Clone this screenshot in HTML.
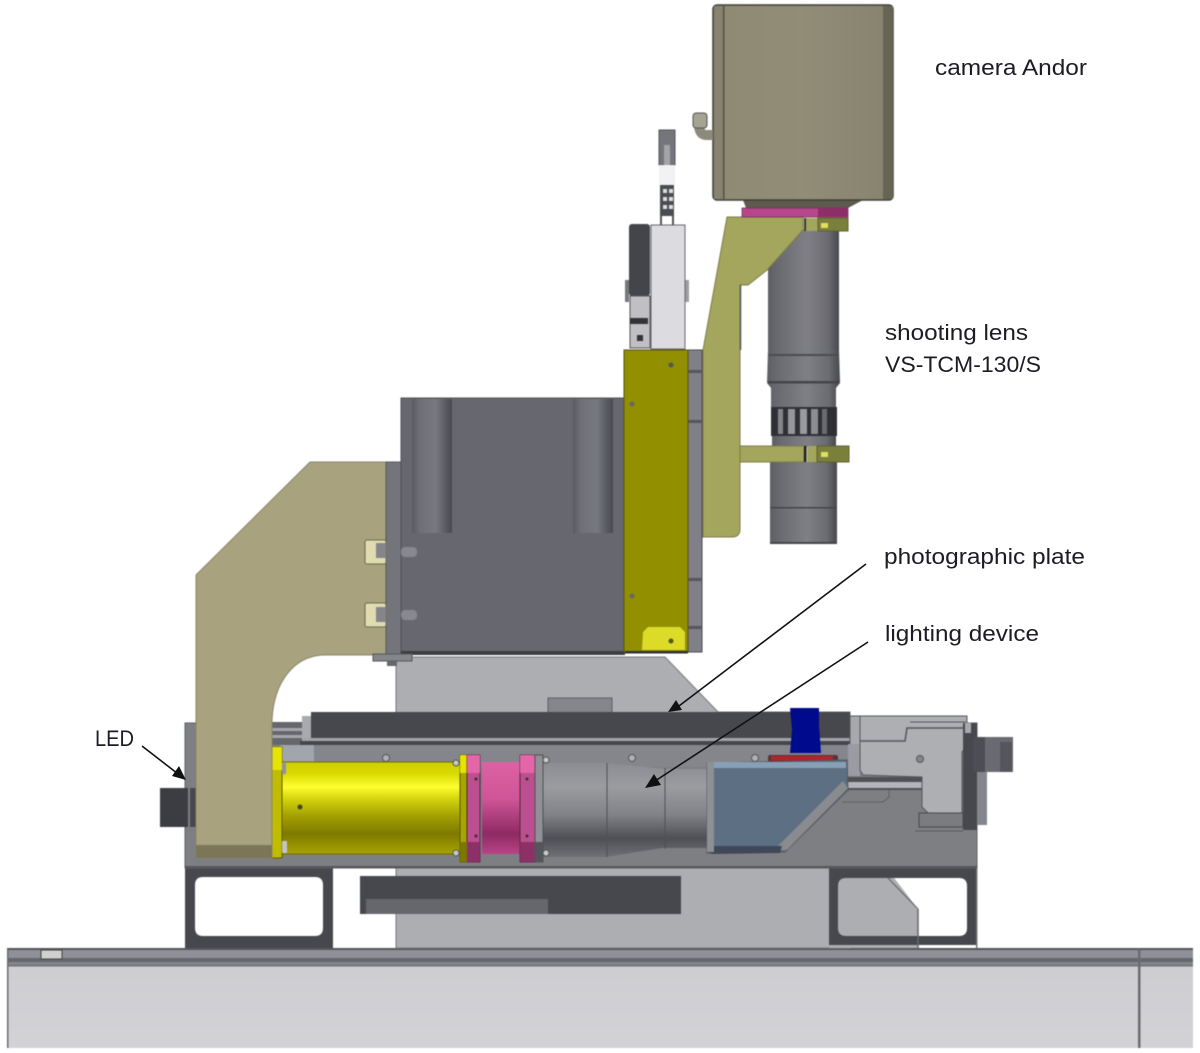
<!DOCTYPE html>
<html><head><meta charset="utf-8"><style>
html,body{margin:0;padding:0;background:#fff;width:1200px;height:1053px;overflow:hidden}
svg{display:block}
text{font-family:"Liberation Sans",sans-serif;font-size:22px;fill:#1c1c24}
.soft{filter:blur(.6px)}
.softt{filter:blur(.35px)}
</style></head><body>
<svg width="1200" height="1053" viewBox="0 0 1200 1053" xmlns="http://www.w3.org/2000/svg">
<defs>
<linearGradient id="yel" x1="0" y1="0" x2="0" y2="1"><stop offset="0" stop-color="#cfcf00"/><stop offset=".12" stop-color="#d8d800"/><stop offset=".27" stop-color="#ffff30"/><stop offset=".38" stop-color="#dada10"/><stop offset=".58" stop-color="#a5a200"/><stop offset=".78" stop-color="#7f7a00"/><stop offset="1" stop-color="#a8a400"/></linearGradient>
<linearGradient id="pnk" x1="0" y1="0" x2="0" y2="1"><stop offset="0" stop-color="#dc62a4"/><stop offset=".4" stop-color="#cf5598"/><stop offset=".78" stop-color="#8e2a64"/><stop offset="1" stop-color="#b84488"/></linearGradient>
<linearGradient id="cone" x1="0" y1="0" x2="0" y2="1"><stop offset="0" stop-color="#8c8d92"/><stop offset=".25" stop-color="#9b9ca0"/><stop offset=".55" stop-color="#818287"/><stop offset=".8" stop-color="#4e4f55"/><stop offset="1" stop-color="#6f7075"/></linearGradient>
<linearGradient id="lens" x1="0" y1="0" x2="1" y2="0"><stop offset="0" stop-color="#5d5e64"/><stop offset=".15" stop-color="#6a6b71"/><stop offset=".55" stop-color="#7f8086"/><stop offset=".85" stop-color="#6a6b70"/><stop offset="1" stop-color="#47484d"/></linearGradient>
<linearGradient id="cyl" x1="0" y1="0" x2="1" y2="0"><stop offset="0" stop-color="#5a5b62"/><stop offset=".2" stop-color="#6f7078"/><stop offset=".6" stop-color="#777880"/><stop offset="1" stop-color="#48494f"/></linearGradient>
<linearGradient id="cam" x1="0" y1="0" x2="1" y2="0"><stop offset="0" stop-color="#8f8a74"/><stop offset=".5" stop-color="#928d77"/><stop offset="1" stop-color="#87836f"/></linearGradient>
<linearGradient id="tbl" x1="0" y1="0" x2="0" y2="1"><stop offset="0" stop-color="#cdcdd1"/><stop offset="1" stop-color="#d3d3d6"/></linearGradient>
</defs>

<g class="soft">
<!-- table -->
<rect x="7" y="949" width="1186" height="99" fill="url(#tbl)"/>
<rect x="7" y="949" width="1186" height="10" fill="#8f9098"/>
<rect x="7" y="948" width="1186" height="2" fill="#55565c"/>
<rect x="7" y="958" width="1186" height="4" fill="#66676d"/>
<rect x="7" y="962" width="1186" height="3" fill="#85868c"/>
<rect x="7" y="965" width="1186" height="1.5" fill="#6f7076"/>
<rect x="7" y="949" width="1.5" height="99" fill="#6a6b70"/>
<rect x="1138" y="949" width="2.5" height="99" fill="#6a6b70"/>
<rect x="41" y="950" width="21" height="9" fill="#d0d0d0" stroke="#444" stroke-width="1"/>

<!-- light column -->
<polygon points="396,657 665,657 718,712 850,712 850,948 396,948" fill="#adaeb2" stroke="#77787c"/>
<rect x="548" y="698" width="64" height="15" fill="#85868b" stroke="#5e5f64"/>

<!-- grey part behind right frame -->
<polygon points="829,870 888,870 918,909 918,948 829,948" fill="#adaeb2"/>

<!-- base frames -->
<path fill-rule="evenodd" d="M185,866H333V948H185ZM203,877Q195,877 195,885V928Q195,936 203,936H315Q323,936 323,928V885Q323,877 315,877Z" fill="#47484e"/>
<path fill-rule="evenodd" d="M829,866H976V945H829ZM846,878Q838,878 838,886V928Q838,936 846,936H959Q967,936 967,928V886Q967,878 959,878Z" fill="#47484e"/>
<line x1="888" y1="878" x2="918" y2="909" stroke="#66676b" stroke-width="1.2"/>
<line x1="918" y1="909" x2="918" y2="948" stroke="#66676b" stroke-width="1.5"/>
<rect x="976" y="866" width="1.5" height="82" fill="#77787c"/>
<rect x="919" y="945" width="57" height="3" fill="#fff"/>

<!-- base body -->
<rect x="185" y="723" width="792" height="145" fill="#7e7f83" stroke="#5f6064" stroke-width="1"/>
<rect x="185" y="866" width="792" height="2" fill="#55565b"/>

<!-- lower plate -->
<rect x="360" y="876" width="321" height="38" fill="#47484e"/>
<rect x="366" y="899" width="182" height="15" fill="#66676c"/>

<!-- rail & plate -->
<rect x="272" y="722" width="40" height="26" fill="#66676c"/>
<rect x="272" y="728" width="32" height="3" fill="#a6a7aa"/>
<rect x="272" y="735" width="32" height="3" fill="#a6a7aa"/>
<rect x="272" y="745" width="700" height="22" fill="#85868c"/>
<rect x="280" y="745" width="34" height="18" fill="#a3a5ad"/>
<rect x="302" y="716" width="10" height="25" fill="#a9aaae"/>
<rect x="300" y="741" width="560" height="4" fill="#45464c"/>
<rect x="304" y="738" width="556" height="3" fill="#a3a4a8"/>
<rect x="311" y="712" width="539" height="26" fill="#47484e"/>
<rect x="850" y="716" width="10" height="29" fill="#a8a9ad" stroke="#55565a"/>
<rect x="848" y="744" width="12" height="32" fill="#9a9ba3"/>
<circle cx="386" cy="758" r="3.5" fill="#b0b1b5" stroke="#55565a"/>
<circle cx="632" cy="758" r="3.5" fill="#b0b1b5" stroke="#55565a"/>
<circle cx="755" cy="758" r="3.5" fill="#b0b1b5" stroke="#55565a"/>

<!-- right fitting -->
<rect x="848" y="777" width="74" height="13" fill="#4f5055"/>
<rect x="848" y="782" width="74" height="6" fill="#b4b5bb"/>
<polygon points="860,716 967,716 967,745 962,752 962,813 928,813 922,807 922,777 863,775 860,770" fill="#aeafb3" stroke="#55565b"/>
<polyline points="910,722 966,722" fill="none" stroke="#55565b"/>
<polyline points="860,741 905,741 907,728 966,728" fill="none" stroke="#55565b" stroke-width="1.5"/>
<circle cx="920" cy="759" r="3.5" fill="#85868a" stroke="#55565a"/>
<rect x="919" y="813" width="44" height="14" fill="#7b7c80" stroke="#47484d"/>
<rect x="963" y="723" width="14" height="107" fill="#47484e"/>
<rect x="965" y="723" width="6" height="10" fill="#a9aaae"/>
<rect x="977" y="772" width="10" height="53" fill="#85868c"/>
<rect x="973" y="737" width="40" height="35" fill="#6a6b72"/>
<rect x="973" y="737" width="12" height="35" fill="#4d4e55"/>
<rect x="1000" y="742" width="12" height="30" fill="#55565c"/>
<line x1="915" y1="831" x2="963" y2="831" stroke="#5a5b5f"/>
<polyline points="842,802 883,802 889,797 889,790" fill="none" stroke="#5f6064"/>

<!-- LED -->
<rect x="160" y="788" width="28" height="39" fill="#3c3d42"/>
<rect x="190" y="788" width="6" height="39" fill="#47484d"/>

<!-- yellow assembly -->
<rect x="281" y="762" width="180" height="92" fill="url(#yel)" stroke="#6f6c00" stroke-width="1"/>
<circle cx="300" cy="807" r="2.5" fill="#45451c"/>
<rect x="272" y="747" width="10" height="111" fill="#c0bd00" stroke="#5c5a00" stroke-width="1"/>
<rect x="272" y="747" width="10" height="23" fill="#e4e400"/>
<rect x="282" y="763" width="4" height="11" fill="#8d8fb0"/>
<rect x="282" y="841" width="5" height="12" fill="#c4c4c4"/>
<!-- pink -->
<rect x="482" y="762" width="38" height="92" fill="url(#pnk)"/>
<!-- cone -->
<polygon points="543,763 606,763 666,769 707,769 707,848 662,848 606,857 543,857" fill="url(#cone)"/>
<line x1="607" y1="763" x2="607" y2="857" stroke="#4f5055"/>
<line x1="665" y1="768" x2="665" y2="849" stroke="#4f5055"/>
<!-- flange 1 -->
<rect x="460" y="755" width="7" height="107" fill="#a8a500" stroke="#565400" stroke-width="1"/>
<rect x="460" y="755" width="7" height="18" fill="#e4e400"/>
<rect x="467" y="755" width="13" height="107" fill="#bc4f8f" stroke="#4d2a3e" stroke-width="1"/>
<rect x="467" y="755" width="13" height="18" fill="#e566a8"/>
<rect x="467" y="842" width="13" height="20" fill="#8e3068"/>
<rect x="460" y="842" width="7" height="20" fill="#7a7800"/>
<!-- flange 2 -->
<rect x="520" y="755" width="15" height="107" fill="#bc4f8f" stroke="#4d2a3e" stroke-width="1"/>
<rect x="520" y="755" width="15" height="18" fill="#e566a8"/>
<rect x="520" y="842" width="15" height="20" fill="#8e3068"/>
<rect x="535" y="755" width="8" height="107" fill="#909196" stroke="#4f5055" stroke-width="1"/>
<rect x="535" y="842" width="8" height="20" fill="#55565b"/>
<circle cx="456" cy="763" r="3" fill="#c9c9c9" stroke="#555"/>
<circle cx="456" cy="853" r="3" fill="#c9c9c9" stroke="#555"/>
<circle cx="546" cy="760" r="3" fill="#c9c9c9" stroke="#555"/>
<circle cx="546" cy="853" r="3" fill="#c9c9c9" stroke="#555"/>
<circle cx="476" cy="779" r="1.5" fill="#333"/><circle cx="476" cy="836" r="1.5" fill="#333"/>
<circle cx="527" cy="779" r="1.5" fill="#333"/><circle cx="527" cy="836" r="1.5" fill="#333"/>

<!-- blue housing -->
<rect x="768" y="755" width="70" height="7" rx="2" fill="#55363a"/>
<rect x="771" y="756" width="62" height="4.5" fill="#b4232a"/>
<polygon points="790,708 819,708 819,725 821,753 790,753 792,730" fill="#000a8c"/>
<polygon points="707,763 847,760 848,790 785,852 707,853" fill="#5d7083" stroke="#55565b" stroke-width="1"/>
<rect x="714" y="762" width="132" height="6" fill="#88a0b6"/>
<polygon points="843,781 848,788 787,850 774,850" fill="#8a8b8f"/>
<polygon points="707,846 782,846 780,853 712,854 707,851" fill="#3f4858"/>
<rect x="707" y="762" width="7" height="90" fill="#8f9094"/>

<!-- beige bracket -->
<path d="M196,575L310,462H386V655H322C295,657 274,680 272,720V858H196Z" fill="#a8a27e" stroke="#8a8567" stroke-width="1"/>
<rect x="196" y="845" width="76" height="13" fill="#7b7658"/>
<rect x="386" y="462" width="15" height="192" fill="#74757b" stroke="#55565a" stroke-width="1"/>

<!-- nuts/bolts -->
<rect x="365" y="540" width="21" height="24" rx="2" fill="#e0dcb0" stroke="#6b6850"/>
<rect x="376" y="543" width="10" height="15" fill="#85868a"/>
<rect x="365" y="603" width="21" height="24" rx="2" fill="#e0dcb0" stroke="#6b6850"/>
<rect x="376" y="607" width="10" height="15" fill="#85868a"/>

<!-- grey box -->
<rect x="401" y="398" width="223" height="254" fill="#67686f" stroke="#505157" stroke-width="1"/>
<rect x="412" y="399" width="40" height="134" fill="url(#cyl)"/>
<rect x="573" y="399" width="40" height="134" fill="url(#cyl)"/>
<rect x="401" y="547" width="16" height="10" rx="4" fill="#88898e"/>
<rect x="401" y="610" width="16" height="10" rx="4" fill="#88898e"/>
<rect x="401" y="651" width="224" height="4" fill="#3c3d42"/>
<rect x="373" y="654" width="39" height="7" fill="#85868a" stroke="#55565a"/>
<rect x="387" y="661" width="10" height="5" fill="#66676b"/>

<!-- upper device -->
<rect x="625" y="280" width="4" height="22" fill="#77787c"/>
<rect x="685" y="280" width="4" height="22" fill="#9e9fa2"/>
<rect x="629" y="224" width="21" height="72" fill="#44454a" rx="3"/>
<rect x="630" y="296" width="20" height="52" fill="#c0c0c4" stroke="#55565a"/>
<rect x="630" y="318" width="18" height="6" fill="#333"/>
<rect x="637" y="335" width="6" height="6" fill="#333"/>
<rect x="651" y="225" width="34" height="124" fill="#dcdce0" stroke="#66676b"/>
<rect x="659" y="130" width="16" height="35" fill="#75767c" stroke="#55565a"/>
<rect x="664" y="145" width="6" height="25" fill="#a3a4a8"/>
<rect x="659" y="165" width="16" height="20" fill="#f2f2f2"/>
<rect x="660" y="185" width="14" height="31" fill="#4b4c51"/>
<rect x="663" y="189" width="4" height="4" fill="#ddd"/><rect x="669" y="189" width="4" height="4" fill="#ddd"/>
<rect x="663" y="197" width="4" height="4" fill="#ddd"/><rect x="669" y="197" width="4" height="4" fill="#ddd"/>
<rect x="663" y="205" width="4" height="4" fill="#ddd"/><rect x="669" y="205" width="4" height="4" fill="#ddd"/>
<rect x="660" y="216" width="2" height="9" fill="#555"/><rect x="672" y="216" width="2" height="9" fill="#555"/>

<!-- olive panel -->
<rect x="688" y="350" width="14" height="302" fill="#7f8088" stroke="#4a4b50" stroke-width="1"/>
<rect x="688" y="370" width="14" height="3" fill="#55565b"/>
<rect x="688" y="420" width="14" height="3" fill="#55565b"/>
<rect x="688" y="578" width="14" height="3" fill="#55565b"/>
<rect x="688" y="626" width="14" height="3" fill="#55565b"/>
<rect x="624" y="350" width="64" height="302" fill="#929000" stroke="#55540a" stroke-width="1"/>
<path d="M648,627H680L685,632V650H642L643,632Z" fill="#dcdc28"/>
<circle cx="671" cy="365" r="2.5" fill="#555"/><circle cx="632" cy="404" r="2.5" fill="#666"/>
<circle cx="632" cy="596" r="2.5" fill="#666"/><circle cx="671" cy="641" r="2.5" fill="#55560f"/>
<rect x="625" y="651" width="63" height="2.5" fill="#303035"/>

<!-- lens -->
<rect x="768" y="230" width="71" height="120" fill="url(#lens)"/>
<path d="M768,350H839L840,383L836,388V407H771V388L767,383Z" fill="url(#lens)"/>
<rect x="768" y="354" width="71" height="2" fill="#4b4c51"/>
<rect x="768" y="381" width="71" height="2.5" fill="#44454a"/>
<rect x="771" y="407" width="66" height="29" fill="#2f3035"/>
<rect x="778" y="409" width="5" height="25" fill="#84858a"/>
<rect x="788" y="409" width="7" height="25" fill="#95969b"/>
<rect x="800" y="409" width="7" height="25" fill="#9a9ba0"/>
<rect x="811" y="409" width="7" height="25" fill="#8c8d92"/>
<rect x="822" y="409" width="5" height="25" fill="#6a6b70"/>
<rect x="772" y="436" width="64" height="11" fill="url(#lens)"/>
<rect x="770" y="462" width="67" height="81" fill="url(#lens)"/>
<rect x="770" y="507" width="67" height="1.5" fill="#44454a"/>
<rect x="770" y="542" width="67" height="2" fill="#44454a"/>

<!-- olive arm -->
<path d="M727,217H803V230L767,270L748,285H740V529Q740,537 732,537H703V350Z" fill="#a3a65c" stroke="#7a7c48" stroke-width="1"/>
<line x1="740.5" y1="285" x2="740.5" y2="350" stroke="#55565a" stroke-width="1.5"/>
<rect x="740" y="446" width="64" height="16" fill="#a3a65c" stroke="#7a7c48" stroke-width="1"/>
<rect x="804" y="446" width="2.5" height="16" fill="#202125"/>
<rect x="807" y="446" width="11" height="16" fill="#a3a65c"/>
<rect x="817" y="446" width="32" height="16" fill="#7b7f3c" stroke="#5f6030" stroke-width="1"/>
<rect x="821" y="452" width="7" height="5" fill="#e0e060"/>
<rect x="804" y="218" width="2" height="13" fill="#33342a"/>
<rect x="806" y="218" width="12" height="13" fill="#a3a65c"/>
<rect x="818" y="218" width="30" height="13" fill="#7b7f3c" stroke="#5f6030" stroke-width="1"/>
<rect x="821" y="223" width="7" height="5" fill="#e0e060"/>

<!-- camera -->
<polygon points="743,200 863,200 848,208 746,208" fill="#5d5b50"/>
<rect x="742" y="208" width="106" height="9" fill="#b8468c" stroke="#6c3358" stroke-width=".8"/>
<rect x="818" y="208" width="30" height="9" fill="#8e2e68"/>
<rect x="713" y="5" width="180" height="195" rx="4" fill="url(#cam)" stroke="#3f3e36" stroke-width="1.5"/>
<rect x="714" y="6" width="10" height="193" fill="#878370"/>
<rect x="723" y="6" width="1.5" height="193" fill="#55533f"/>
<rect x="883" y="6" width="10" height="193" fill="#666453"/>
<path d="M713,135H706Q699,135 699,124" fill="none" stroke="#8c8a7a" stroke-width="10"/>
<rect x="693" y="113" width="14" height="15" rx="3" fill="#a5a392" stroke="#555"/>
</g>

<g class="softt">
<!-- arrows -->
<g stroke="#111" stroke-width="1.6" fill="none">
<line x1="142" y1="746" x2="182" y2="777"/>
<line x1="866" y1="564" x2="675" y2="709"/>
<line x1="868" y1="642" x2="652" y2="783"/>
</g>
<polygon points="186,780 172,776 179,766" fill="#111"/>
<polygon points="668,712 676,700 682,710" fill="#111"/>
<polygon points="645,788 654,774 661,785" fill="#111"/>

<!-- labels -->
<text x="935" y="75" textLength="152" lengthAdjust="spacingAndGlyphs">camera Andor</text>
<text x="885" y="340" textLength="143" lengthAdjust="spacingAndGlyphs">shooting lens</text>
<text x="885" y="372" textLength="156" lengthAdjust="spacingAndGlyphs">VS-TCM-130/S</text>
<text x="884" y="564" textLength="201" lengthAdjust="spacingAndGlyphs">photographic plate</text>
<text x="885" y="641" textLength="154" lengthAdjust="spacingAndGlyphs">lighting device</text>
<text x="95" y="746" textLength="39" lengthAdjust="spacingAndGlyphs">LED</text>
</g>
</svg>
</body></html>
